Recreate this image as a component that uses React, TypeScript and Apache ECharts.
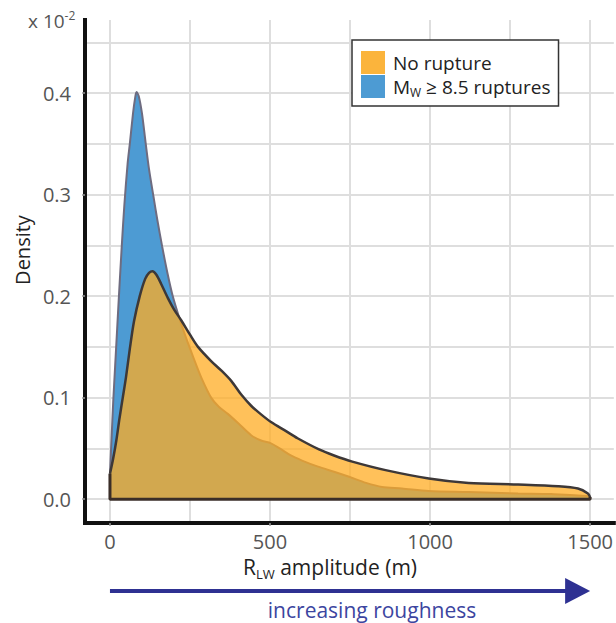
import React, { useEffect, useRef } from "react";
import * as echarts from "echarts";

// ---- data (density in units of 10^-2) ----
const noRuptureAmplitude = [
  0, 10, 20, 30, 40, 50, 62, 75, 93, 110, 122, 133, 145, 160, 181, 200, 223, 250, 275, 316,
  350, 380, 410, 441, 470, 503, 550, 586, 653, 700, 757, 861, 996, 1120, 1275, 1400, 1462, 1493, 1500,
];
const noRuptureDensity = [
  0.025, 0.04, 0.058, 0.08, 0.1, 0.12, 0.148, 0.175, 0.2, 0.217, 0.223, 0.2246, 0.221, 0.212,
  0.198, 0.187, 0.176, 0.162, 0.15, 0.136, 0.126, 0.116, 0.103, 0.092, 0.084, 0.076, 0.067,
  0.06, 0.049, 0.043, 0.037, 0.0286, 0.0204, 0.016, 0.0145, 0.0128, 0.0105, 0.0056, 0.002,
];
const ruptureAmplitude = [
  0, 5, 10, 16, 22, 28, 37, 45, 55, 62, 72, 78, 83, 90, 100, 111, 122, 136, 148, 163, 180,
  196, 215, 233, 260, 285, 316, 340, 368, 400, 441, 470, 503, 530, 565, 600, 650, 700, 747, 800,
  850, 912, 996, 1120, 1275, 1378, 1493, 1500,
];
const ruptureDensity = [
  0.025, 0.06, 0.095, 0.13, 0.165, 0.2, 0.25, 0.29, 0.33, 0.35, 0.38, 0.394, 0.401, 0.397, 0.38,
  0.352, 0.325, 0.298, 0.275, 0.249, 0.222, 0.2, 0.18, 0.163, 0.14, 0.12, 0.1, 0.091, 0.084,
  0.075, 0.063, 0.058, 0.055, 0.05, 0.043, 0.038, 0.032, 0.027, 0.022, 0.016, 0.012, 0.0105,
  0.008, 0.007, 0.0056, 0.005, 0.003, 0.001,
];
// outline along the bottom of the "No rupture" area: left edge, baseline, right edge
const frameAmplitude = [0, 0, 1500, 1500];
const frameDensity = [0.025, 0, 0, 0.002];

const xTickValues = [0, 500, 1000, 1500];
const yTickValues = [0, 0.1, 0.2, 0.3, 0.4];
const xGridValues = [0, 250, 500, 750, 1000, 1250, 1500];
const yGridValues = [0, 0.05, 0.1, 0.15, 0.2, 0.25, 0.3, 0.35, 0.4, 0.45];

const NO_RUPTURE = "No rupture";
const RUPTURE = "Mw ≥ 8.5 ruptures";

const X_MIN = -78;
const X_MAX = 1574;
const Y_MIN = -0.0235;
const Y_MAX = 0.472;

const FONT = "'Open Sans', sans-serif";
const BLUE = "#4d9bd3";
const ORANGE_SWATCH = "#fbb43c";
const ORANGE_FILL = "rgba(255,172,35,0.75)";
const ARROW = "#2e3192";

export default function App() {
  const ref = useRef<HTMLDivElement>(null);

  useEffect(() => {
    const chart = echarts.init(ref.current!, null, { renderer: "svg" });
    const pair = (xs: number[], ys: number[]) => xs.map((x, i) => [x, ys[i]]);

    chart.setOption({
      animation: false,
      backgroundColor: "#ffffff",
      grid: { left: 85, right: 0, top: 20, bottom: 100, containLabel: false },
      xAxis: {
        type: "value",
        min: X_MIN,
        max: X_MAX,
        z: 10,
        axisLine: { show: true, onZero: false, lineStyle: { color: "#111", width: 4, cap: "square" } },
        axisTick: { show: true, customValues: xTickValues, length: 3, lineStyle: { color: "#999", width: 1.5 } },
        axisLabel: {
          customValues: xTickValues,
          margin: 8,
          color: "#555",
          fontSize: 20,
          fontFamily: FONT,
          formatter: (v: number) => String(v),
        },
        splitLine: { show: false },
      },
      yAxis: {
        type: "value",
        min: Y_MIN,
        max: Y_MAX,
        z: 10,
        axisLine: { show: true, onZero: false, lineStyle: { color: "#111", width: 4, cap: "square" } },
        axisTick: { show: true, customValues: yTickValues, length: 3, lineStyle: { color: "#999", width: 1.5 } },
        axisLabel: {
          customValues: yTickValues,
          margin: 14,
          color: "#555",
          fontSize: 20,
          fontFamily: FONT,
          formatter: (v: number) => v.toFixed(1),
        },
        splitLine: { show: false },
      },
      legend: {
        orient: "vertical",
        left: 352,
        top: 40,
        padding: [11, 8, 8, 9],
        itemWidth: 24,
        itemHeight: 23,
        itemGap: 1,
        icon: "rect",
        backgroundColor: "#ffffff",
        borderColor: "#333",
        borderWidth: 1.5,
        borderRadius: 0,
        itemStyle: { borderWidth: 0 },
        data: [
          { name: NO_RUPTURE, itemStyle: { color: ORANGE_SWATCH, opacity: 1, borderWidth: 0 } },
          { name: RUPTURE, itemStyle: { color: BLUE, opacity: 1, borderWidth: 0 } },
        ],
        formatter: (name: string) => (name === RUPTURE ? "{a|M}{sub|W}{a| ≥ 8.5 ruptures}" : "{a|" + name + "}"),
        textStyle: {
          fontFamily: FONT,
          fontSize: 19,
          color: "#222",
          padding: [0, 0, 0, 3],
          rich: {
            a: { fontFamily: FONT, fontSize: 19, color: "#222", lineHeight: 23 },
            sub: { fontFamily: FONT, fontSize: 12, color: "#222", lineHeight: 12, verticalAlign: "bottom" },
          },
        },
        z: 20,
      },
      series: [
        {
          name: RUPTURE,
          type: "line",
          data: pair(ruptureAmplitude, ruptureDensity),
          symbol: "none",
          showSymbol: false,
          smooth: 0.3,
          z: 2,
          itemStyle: { color: BLUE },
          lineStyle: { color: "#6e6c80", width: 2 },
          areaStyle: { color: BLUE, opacity: 1 },
        },
        {
          name: NO_RUPTURE,
          type: "line",
          data: pair(noRuptureAmplitude, noRuptureDensity),
          symbol: "none",
          showSymbol: false,
          smooth: 0.3,
          z: 3,
          itemStyle: { color: ORANGE_SWATCH },
          lineStyle: { color: "#3d3838", width: 2.5 },
          areaStyle: { color: ORANGE_FILL, opacity: 1 },
        },
        {
          name: "frame",
          type: "line",
          data: pair(frameAmplitude, frameDensity),
          symbol: "none",
          showSymbol: false,
          z: 4,
          lineStyle: { color: "#3a2e28", width: 3 },
          markLine: {
            silent: true,
            z: 1,
            symbol: ["none", "none"],
            animation: false,
            label: { show: false },
            lineStyle: { color: "#dedede", width: 2, type: "solid" },
            emphasis: { disabled: true },
            data: [
              ...xGridValues.map((v) => ({ xAxis: v })),
              ...yGridValues.map((v) => ({ yAxis: v })),
            ],
          },
        },
      ],
    });

    const p0 = chart.convertToPixel({ gridIndex: 0 }, [0, 0]) as number[];
    const p1 = chart.convertToPixel({ gridIndex: 0 }, [1500, 0]) as number[];
    const arrowY = 591;

    chart.setOption({
      graphic: [
        {
          type: "text",
          x: 28,
          y: 9,
          style: {
            text: "{a|x 10}{sup|-2}",
            rich: {
              a: { fontFamily: FONT, fontSize: 19, fill: "#555", lineHeight: 24 },
              sup: { fontFamily: FONT, fontSize: 12, fill: "#555", lineHeight: 12, verticalAlign: "top" },
            },
          },
        },
        {
          type: "text",
          x: 22,
          y: 250,
          rotation: Math.PI / 2,
          style: {
            text: "Density",
            fontFamily: FONT,
            fontSize: 20,
            fill: "#222",
            align: "center",
            verticalAlign: "middle",
          },
        },
        {
          type: "text",
          x: 330,
          y: 567,
          style: {
            text: "{a|R}{sub|LW}{a| amplitude (m)}",
            align: "center",
            verticalAlign: "middle",
            rich: {
              a: { fontFamily: FONT, fontSize: 21, fill: "#222", lineHeight: 27 },
              sub: { fontFamily: FONT, fontSize: 13, fill: "#222", lineHeight: 13, verticalAlign: "bottom" },
            },
          },
        },
        {
          type: "line",
          shape: { x1: p0[0], y1: arrowY, x2: p1[0] - 18, y2: arrowY },
          style: { stroke: ARROW, lineWidth: 4 },
        },
        {
          type: "polygon",
          shape: {
            points: [
              [p1[0] - 25, arrowY - 13],
              [p1[0], arrowY],
              [p1[0] - 25, arrowY + 13],
            ],
          },
          style: { fill: ARROW },
        },
        {
          type: "text",
          x: 372,
          y: 610,
          style: {
            text: "increasing roughness",
            fontFamily: FONT,
            fontSize: 21,
            fill: "#3c45a0",
            align: "center",
            verticalAlign: "middle",
          },
        },
      ],
    });

    return () => chart.dispose();
  }, []);

  return (
    <div
      ref={ref}
      style={{ position: "fixed", left: 0, top: 0, width: 616, height: 623, background: "#fff" }}
    />
  );
}
